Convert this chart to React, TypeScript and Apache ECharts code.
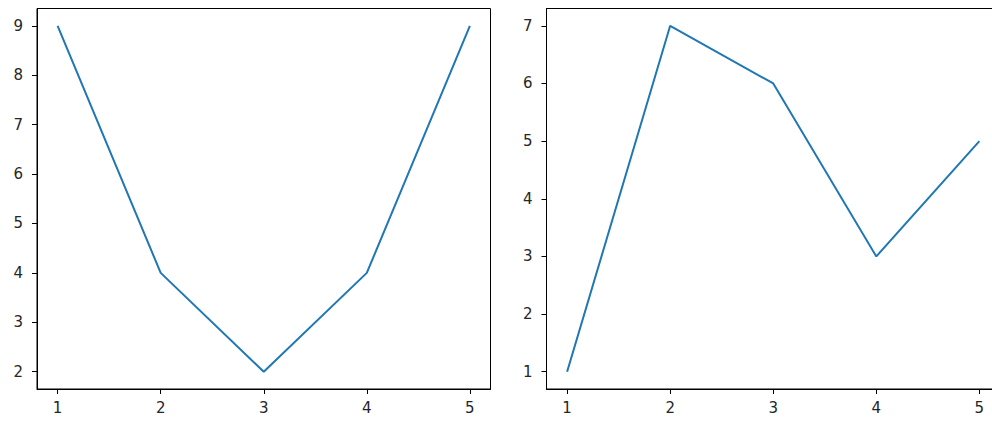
import React, { useEffect, useRef } from "react";
import * as echarts from "echarts";

const xValues = [1, 2, 3, 4, 5];
const leftValues = [9, 4, 2, 4, 9];
const rightValues = [1, 7, 6, 3, 5];
const xTicks = [1, 2, 3, 4, 5];
const leftYTicks = [2, 3, 4, 5, 6, 7, 8, 9];
const rightYTicks = [1, 2, 3, 4, 5, 6, 7];

const FONT = "DejaVu Sans";

function pad(vals: number[]) {
  const mn = Math.min(...vals);
  const mx = Math.max(...vals);
  const p = (mx - mn) * 0.05;
  return { min: mn - p, max: mx + p };
}

function xAxis(gridIndex: number) {
  const r = pad(xValues);
  return {
    type: "value",
    gridIndex,
    min: r.min,
    max: r.max,
    splitLine: { show: false },
    axisLine: { show: true, onZero: false, lineStyle: { color: "#000", width: 1 } },
    axisTick: { show: true, inside: false, length: 5, customValues: xTicks, lineStyle: { color: "#000", width: 1 } },
    axisLabel: { show: true, customValues: xTicks, margin: 11, fontFamily: FONT, fontSize: 15, color: "#262626" },
  };
}

function yAxis(gridIndex: number, vals: number[], ticks: number[]) {
  const r = pad(vals);
  return {
    type: "value",
    gridIndex,
    min: r.min,
    max: r.max,
    splitLine: { show: false },
    axisLine: { show: true, onZero: false, lineStyle: { color: "#000", width: 1 } },
    axisTick: { show: true, inside: false, length: 5, customValues: ticks, lineStyle: { color: "#000", width: 1 } },
    axisLabel: { show: true, customValues: ticks, margin: 14, fontFamily: FONT, fontSize: 15, color: "#262626" },
  };
}

export default function App() {
  const ref = useRef<HTMLDivElement>(null);
  useEffect(() => {
    if (!ref.current) return;
    const chart = echarts.init(ref.current, undefined, { renderer: "svg" });
    chart.setOption({
      animation: false,
      backgroundColor: "#fff",
      grid: [
        { left: 37, top: 8.5, width: 453.5, height: 380.5, show: true, borderColor: "#000", borderWidth: 1, backgroundColor: "transparent", containLabel: false },
        { left: 546.5, top: 8.5, width: 453.5, height: 380.5, show: true, borderColor: "#000", borderWidth: 1, backgroundColor: "transparent", containLabel: false },
      ],
      xAxis: [xAxis(0), xAxis(1)],
      yAxis: [yAxis(0, leftValues, leftYTicks), yAxis(1, rightValues, rightYTicks)],
      series: [
        {
          type: "line",
          xAxisIndex: 0,
          yAxisIndex: 0,
          data: xValues.map((x, i) => [x, leftValues[i]]),
          showSymbol: false,
          symbol: "none",
          lineStyle: { color: "#1f77b4", width: 2 },
        },
        {
          type: "line",
          xAxisIndex: 1,
          yAxisIndex: 1,
          data: xValues.map((x, i) => [x, rightValues[i]]),
          showSymbol: false,
          symbol: "none",
          lineStyle: { color: "#1f77b4", width: 2 },
        },
      ],
    });
    return () => chart.dispose();
  }, []);
  return (
    <div style={{ position: "fixed", left: 0, top: 0, width: 992, height: 423, overflow: "hidden", background: "#fff" }}>
      <div ref={ref} style={{ width: 1010, height: 423 }} />
    </div>
  );
}
